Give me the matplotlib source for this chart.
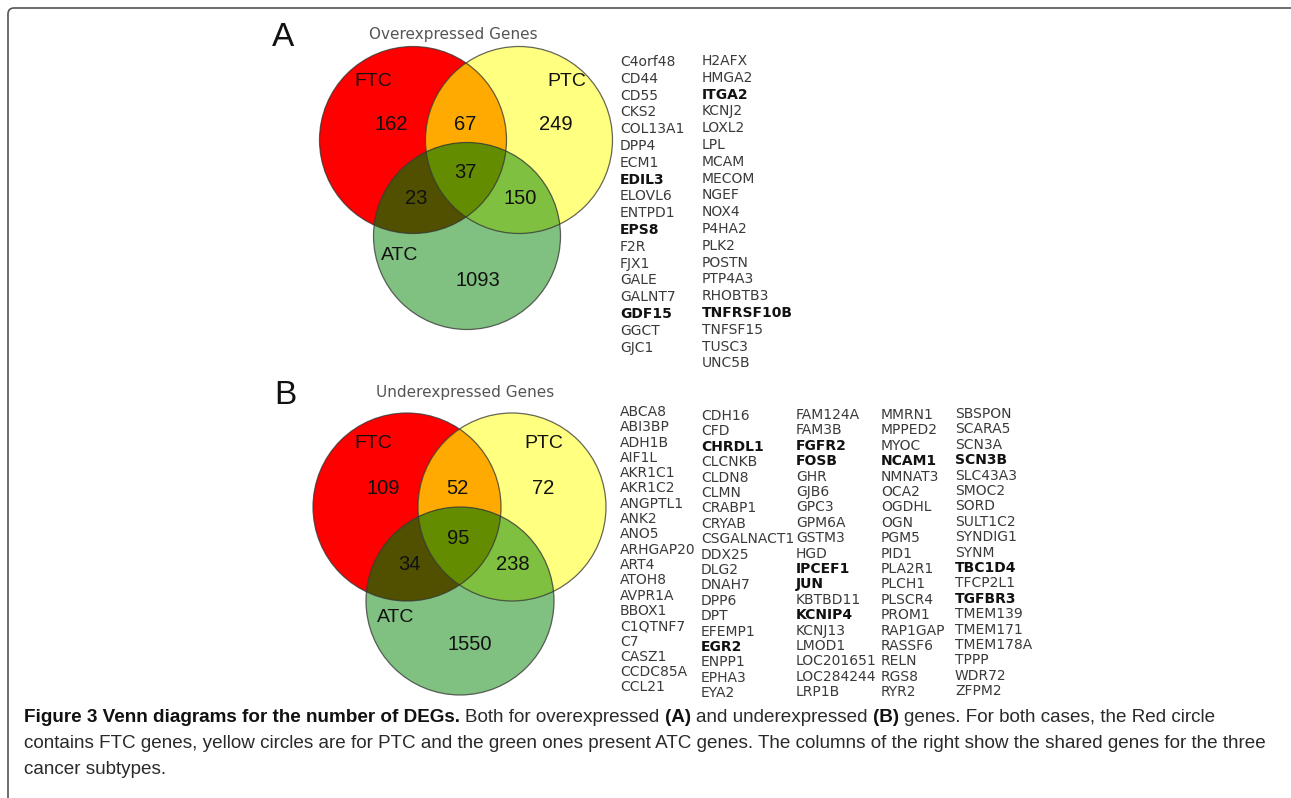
import numpy as np
import matplotlib
matplotlib.use('Agg')
import matplotlib.pyplot as plt
from matplotlib.patches import Circle, Polygon
from matplotlib.path import Path
from matplotlib.patches import PathPatch

# region order: FTC only, PTC only, ATC only, FTC&PTC, FTC&ATC, PTC&ATC, all three
region_names = ['FTC', 'PTC', 'ATC', 'FTC&PTC', 'FTC&ATC', 'PTC&ATC', 'FTC&PTC&ATC']
over_counts = [162, 249, 1093, 67, 23, 150, 37]
under_counts = [109, 72, 1550, 52, 34, 238, 95]
set_labels = ['FTC', 'PTC', 'ATC']

over_col1 = ['C4orf48', 'CD44', 'CD55', 'CKS2', 'COL13A1', 'DPP4', 'ECM1', 'EDIL3',
             'ELOVL6', 'ENTPD1', 'EPS8', 'F2R', 'FJX1', 'GALE', 'GALNT7', 'GDF15',
             'GGCT', 'GJC1']
over_col2 = ['H2AFX', 'HMGA2', 'ITGA2', 'KCNJ2', 'LOXL2', 'LPL', 'MCAM', 'MECOM',
             'NGEF', 'NOX4', 'P4HA2', 'PLK2', 'POSTN', 'PTP4A3', 'RHOBTB3',
             'TNFRSF10B', 'TNFSF15', 'TUSC3', 'UNC5B']
over_bold = ['EDIL3', 'EPS8', 'GDF15', 'ITGA2', 'TNFRSF10B']

under_col1 = ['ABCA8', 'ABI3BP', 'ADH1B', 'AIF1L', 'AKR1C1', 'AKR1C2', 'ANGPTL1', 'ANK2',
              'ANO5', 'ARHGAP20', 'ART4', 'ATOH8', 'AVPR1A', 'BBOX1', 'C1QTNF7', 'C7',
              'CASZ1', 'CCDC85A', 'CCL21']
under_col2 = ['CDH16', 'CFD', 'CHRDL1', 'CLCNKB', 'CLDN8', 'CLMN', 'CRABP1', 'CRYAB',
              'CSGALNACT1', 'DDX25', 'DLG2', 'DNAH7', 'DPP6', 'DPT', 'EFEMP1', 'EGR2',
              'ENPP1', 'EPHA3', 'EYA2']
under_col3 = ['FAM124A', 'FAM3B', 'FGFR2', 'FOSB', 'GHR', 'GJB6', 'GPC3', 'GPM6A',
              'GSTM3', 'HGD', 'IPCEF1', 'JUN', 'KBTBD11', 'KCNIP4', 'KCNJ13', 'LMOD1',
              'LOC201651', 'LOC284244', 'LRP1B']
under_col4 = ['MMRN1', 'MPPED2', 'MYOC', 'NCAM1', 'NMNAT3', 'OCA2', 'OGDHL', 'OGN',
              'PGM5', 'PID1', 'PLA2R1', 'PLCH1', 'PLSCR4', 'PROM1', 'RAP1GAP', 'RASSF6',
              'RELN', 'RGS8', 'RYR2']
under_col5 = ['SBSPON', 'SCARA5', 'SCN3A', 'SCN3B', 'SLC43A3', 'SMOC2', 'SORD', 'SULT1C2',
              'SYNDIG1', 'SYNM', 'TBC1D4', 'TFCP2L1', 'TGFBR3', 'TMEM139', 'TMEM171',
              'TMEM178A', 'TPPP', 'WDR72', 'ZFPM2']
under_bold = ['CHRDL1', 'EGR2', 'FGFR2', 'FOSB', 'IPCEF1', 'JUN', 'KCNIP4', 'NCAM1',
              'SCN3B', 'TBC1D4', 'TGFBR3']

# colours of the seven regions (same order as region_names)
region_colors = ['#ff0000', '#ffff80', '#80c080', '#ffaa00', '#505000', '#80c040', '#648c00']

fig = plt.figure(figsize=(12.91, 7.98), dpi=100)
ax = fig.add_axes([0, 0, 1, 1])
ax.set_xlim(0, 1291)
ax.set_ylim(798, 0)
ax.axis('off')


def clip_circle(c, r):
    return Circle(c, r, transform=ax.transData)


def triple_polygon(centers, r, color):
    t = np.linspace(0, 2 * np.pi, 3000)
    pts = []
    for cx, cy in centers:
        p = np.column_stack([cx + r * np.cos(t), cy + r * np.sin(t)])
        inside = np.all([np.hypot(p[:, 0] - ox, p[:, 1] - oy) <= r + 1e-6
                         for ox, oy in centers], axis=0)
        pts.append(p[inside])
    pts = np.vstack(pts)
    m = pts.mean(axis=0)
    order = np.argsort(np.arctan2(pts[:, 1] - m[1], pts[:, 0] - m[0]))
    return Polygon(pts[order], closed=True, facecolor=color, edgecolor='none', zorder=3)


def draw_venn(centers, r, counts, count_pos, label_pos):
    f, p, a = centers
    ax.add_patch(Circle(f, r, facecolor=region_colors[0], edgecolor='none', zorder=1))
    ax.add_patch(Circle(p, r, facecolor=region_colors[1], edgecolor='none', zorder=1))
    c = Circle(p, r, facecolor=region_colors[3], edgecolor='none', zorder=1.5)
    ax.add_patch(c)
    c.set_clip_path(clip_circle(f, r))
    ax.add_patch(Circle(a, r, facecolor=region_colors[2], edgecolor='none', zorder=2))
    c = Circle(a, r, facecolor=region_colors[4], edgecolor='none', zorder=2.5)
    ax.add_patch(c)
    c.set_clip_path(clip_circle(f, r))
    c = Circle(a, r, facecolor=region_colors[5], edgecolor='none', zorder=2.5)
    ax.add_patch(c)
    c.set_clip_path(clip_circle(p, r))
    ax.add_patch(triple_polygon(centers, r, region_colors[6]))
    for cc in centers:
        ax.add_patch(Circle(cc, r, facecolor='none', edgecolor='#333333', lw=0.9,
                            alpha=0.75, zorder=4))
    for n, (x, y) in zip(counts, count_pos):
        ax.text(x, y, str(n), ha='center', va='center', fontsize=14.5,
                family='Liberation Sans', color='#111111', zorder=5)
    for lab, (x, y) in zip(set_labels, label_pos):
        ax.text(x, y, lab, ha='center', va='center', fontsize=14,
                family='Liberation Sans', color='#111111', zorder=5)


def gene_column(genes, x, y0, step, bold):
    for i, g in enumerate(genes):
        if g in bold:
            ax.text(x, y0 + i * step, g, ha='left', va='center', fontsize=10,
                    family='DejaVu Sans', fontweight='bold', color='#111111')
        else:
            ax.text(x, y0 + i * step, g, ha='left', va='center', fontsize=10,
                    family='DejaVu Sans', color='#3a3a3a')


# panel A
draw_venn([(413, 140), (519, 140), (467, 236)], 93.5, over_counts,
          [(391, 124), (556, 124), (478, 280), (465, 124), (416, 199), (520, 199), (465, 173)],
          [(373, 82), (567, 82), (400, 255)])
ax.text(283, 38, 'A', ha='center', va='center', fontsize=24, family='Liberation Sans', color='#111111')
ax.text(453, 34, 'Overexpressed Genes', ha='center', va='center', fontsize=11,
        family='DejaVu Sans', color='#555555')
gene_column(over_col1, 620, 62, 16.8, over_bold)
gene_column(over_col2, 702, 61, 16.8, over_bold)

# panel B
draw_venn([(407, 507), (512, 507), (460, 601)], 94, under_counts,
          [(383, 488), (543, 488), (470, 644), (457, 488), (409, 564), (513, 564), (458, 538)],
          [(373, 443), (544, 443), (396, 618)])
ax.text(285, 395, 'B', ha='center', va='center', fontsize=24, family='Liberation Sans', color='#111111')
ax.text(465, 392, 'Underexpressed Genes', ha='center', va='center', fontsize=11,
        family='DejaVu Sans', color='#555555')
gene_column(under_col1, 620, 412, 15.3, under_bold)
gene_column(under_col2, 701, 416, 15.4, under_bold)
gene_column(under_col3, 796, 415, 15.4, under_bold)
gene_column(under_col4, 881, 415, 15.4, under_bold)
gene_column(under_col5, 955, 414, 15.4, under_bold)

# frame: left and top rule with a rounded corner
verts = [(8, 800), (8, 14), (8, 8), (14, 8), (1293, 8)]
codes = [Path.MOVETO, Path.LINETO, Path.CURVE3, Path.CURVE3, Path.LINETO]
ax.add_patch(PathPatch(Path(verts, codes), facecolor='none', edgecolor='#555555', lw=1.2))

# caption
cap_font = 'Liberation Sans'
line1 = [('Figure 3 Venn diagrams for the number of DEGs.', True), ('Both for overexpressed', False),
         ('(A)', True), ('and underexpressed', False), ('(B)', True),
         ('genes. For both cases, the Red circle', False)]
line2 = [('contains FTC genes, yellow circles are for PTC and the green ones present ATC genes. '
          'The columns of the right show the shared genes for the three', False)]
line3 = [('cancer subtypes.', False)]

renderer = fig.canvas.get_renderer()


def text_width(s, size, bold):
    t = ax.text(0, 0, s, fontsize=size, family=cap_font,
                fontweight='bold' if bold else 'normal')
    w = t.get_window_extent(renderer).width
    t.remove()
    return w


# size so that the second line fills the same width as in the figure
cap_size = 10 * 1251 / text_width(line2[0][0], 10, False)
space = text_width('a a', cap_size, False) - text_width('aa', cap_size, False)

for line, y in zip([line1, line2, line3], [718, 744, 769]):
    x = 24
    for s, b in line:
        t = ax.text(x, y, s, ha='left', va='center', fontsize=cap_size, family=cap_font,
                    fontweight='bold' if b else 'normal',
                    color='#111111' if b else '#2a2a2a')
        x += t.get_window_extent(renderer).width + space

fig.savefig('out.png', dpi=100)
